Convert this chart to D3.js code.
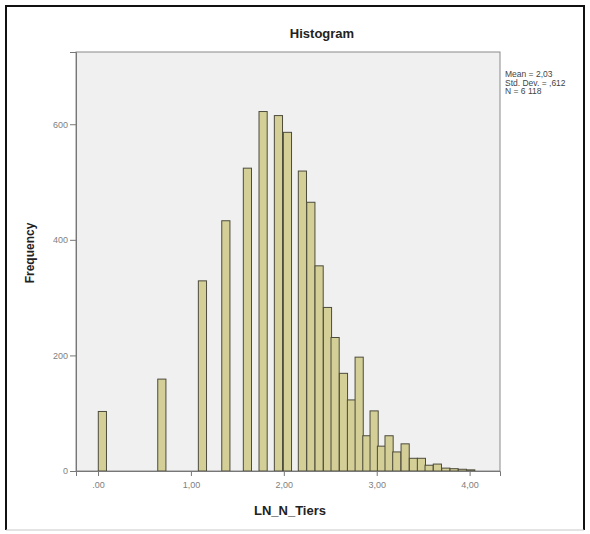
<!DOCTYPE html>
<html>
<head>
<meta charset="utf-8">
<script src="https://cdn.jsdelivr.net/npm/d3@7"></script>
<style>
  body { margin: 0; background: #fff; font-family: "Liberation Sans", Arial, sans-serif; }
  .tick text { fill: #808080; font-size: 9px; }
  .tick line { stroke: #777; }
  .domain { stroke: #777; }
</style>
</head>
<body>
<div id="chart"></div>
<script>
// bin left edges (LN_N_Tiers units) and frequencies
let binStart = [0.003, 0.643, 1.080, 1.332, 1.564, 1.733, 1.898, 1.995,
  2.156, 2.247, 2.336, 2.426, 2.508, 2.598, 2.684, 2.767, 2.850, 2.928,
  3.007, 3.089, 3.172, 3.262, 3.351, 3.437, 3.520, 3.609, 3.700, 3.789, 3.878, 3.968];
let counts = [103, 159, 329, 433, 524, 622, 615, 586,
  519, 465, 355, 283, 231, 169, 123, 197, 61, 104,
  43, 61, 33, 47, 22, 22, 10, 12, 5, 4, 3, 2];
let binWidth = 0.088;

let xTicks = [0, 1, 2, 3, 4];
let xTickLabels = [".00", "1,00", "2,00", "3,00", "4,00"];
let yTicks = [0, 200, 400, 600];
let statsLines = ["Mean = 2,03", "Std. Dev. = ,612", "N = 6 118"];

let bins = binStart.map((x0, i) => ({ x0: x0, x1: x0 + binWidth, n: counts[i] }));

function createHistogram() {
  const width = 590, height = 534;
  const margin = { top: 52, right: 90, bottom: 63, left: 76 };

  const usableArea = {
    top: margin.top,
    right: width - margin.right,
    bottom: height - margin.bottom,
    left: margin.left,
  };

  const svg = d3.select("#chart")
    .append("svg")
    .attr("width", width)
    .attr("height", height);

  // outer frame: dark on three sides, light at the bottom
  svg.append("path")
    .attr("d", "M6,530 L6,6 L584,6 L584,530")
    .attr("fill", "none")
    .attr("stroke", "#111")
    .attr("stroke-width", 2);
  svg.append("line")
    .attr("x1", 6).attr("x2", 584)
    .attr("y1", 530).attr("y2", 530)
    .attr("stroke", "#c8c8c8");

  let xScale = d3.scaleLinear()
    .domain([-0.237, 4.327])
    .range([usableArea.left, usableArea.right]);

  let yScale = d3.scaleLinear()
    .domain([0, 725])
    .range([usableArea.bottom, usableArea.top]);

  // plot background
  svg.append("rect")
    .attr("x", usableArea.left)
    .attr("y", usableArea.top)
    .attr("width", usableArea.right - usableArea.left)
    .attr("height", usableArea.bottom - usableArea.top)
    .attr("fill", "#f0f0f0")
    .attr("stroke", "#8a8a8a");

  svg.append("g")
    .selectAll("rect")
    .data(bins)
    .join("rect")
    .attr("x", d => xScale(d.x0))
    .attr("y", d => yScale(d.n))
    .attr("width", d => xScale(d.x1) - xScale(d.x0))
    .attr("height", d => yScale(0) - yScale(d.n))
    .attr("fill", "#d3cf97")
    .attr("stroke", "#4d4b3c")
    .attr("stroke-width", 1);

  const xAxis = d3.axisBottom(xScale)
    .tickValues(xTicks)
    .tickFormat((d, i) => xTickLabels[i])
    .tickSizeOuter(0)
    .tickSize(5)
    .tickPadding(6);

  const yAxis = d3.axisLeft(yScale)
    .tickValues(yTicks)
    .tickSizeOuter(0)
    .tickSize(6)
    .tickPadding(2);

  svg.append("g")
    .attr("transform", `translate(0, ${usableArea.bottom})`)
    .call(xAxis);

  svg.append("g")
    .attr("transform", `translate(${usableArea.left}, 0)`)
    .call(yAxis);

  svg.selectAll(".tick text").style("font-family", "Liberation Sans, Arial, sans-serif");

  svg.append("text")
    .attr("x", 322).attr("y", 38)
    .attr("text-anchor", "middle")
    .style("font-size", "13px").style("font-weight", "bold")
    .style("fill", "#222")
    .text("Histogram");

  svg.append("text")
    .attr("x", 290).attr("y", 515)
    .attr("text-anchor", "middle")
    .style("font-size", "13px").style("font-weight", "bold")
    .style("fill", "#222")
    .text("LN_N_Tiers");

  svg.append("text")
    .attr("transform", "translate(34, 253) rotate(-90)")
    .attr("text-anchor", "middle")
    .style("font-size", "12px").style("font-weight", "bold")
    .style("fill", "#222")
    .text("Frequency");

  svg.append("g")
    .selectAll("text")
    .data(statsLines)
    .join("text")
    .attr("x", 505)
    .attr("y", (d, i) => 77 + i * 8.5)
    .style("font-size", "8.5px")
    .style("fill", "#444")
    .text(d => d);
}

createHistogram();
</script>
</body>
</html>
